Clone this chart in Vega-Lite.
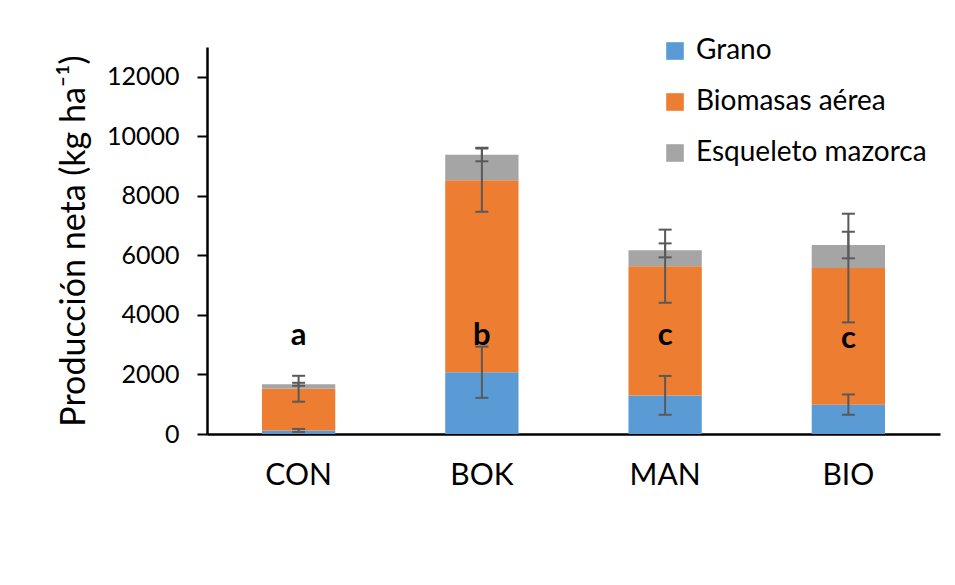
{
  "$schema": "https://vega.github.io/schema/vega-lite/v6.json",
  "width": 733,
  "height": 387,
  "autosize": "none",
  "padding": {"left": 207, "top": 47, "right": 15, "bottom": 151},
  "background": "white",
  "config": {
    "view": {"stroke": null},
    "font": "Lato"
  },
  "datasets": {
    "bars": [
      {"trt": "CON", "comp": "Grano", "orden": 1, "value": 120, "lo": 70, "hi": 170},
      {"trt": "CON", "comp": "Biomasas aérea", "orden": 2, "value": 1400, "lo": 1085, "hi": 1955},
      {"trt": "CON", "comp": "Esqueleto mazorca", "orden": 3, "value": 150, "lo": 1620, "hi": 1720},
      {"trt": "BOK", "comp": "Grano", "orden": 1, "value": 2075, "lo": 1215, "hi": 2935},
      {"trt": "BOK", "comp": "Biomasas aérea", "orden": 2, "value": 6450, "lo": 7465, "hi": 9590},
      {"trt": "BOK", "comp": "Esqueleto mazorca", "orden": 3, "value": 857, "lo": 9160, "hi": 9616},
      {"trt": "MAN", "comp": "Grano", "orden": 1, "value": 1295, "lo": 646, "hi": 1950},
      {"trt": "MAN", "comp": "Biomasas aérea", "orden": 2, "value": 4338, "lo": 4408, "hi": 6865},
      {"trt": "MAN", "comp": "Esqueleto mazorca", "orden": 3, "value": 536, "lo": 5934, "hi": 6403},
      {"trt": "BIO", "comp": "Grano", "orden": 1, "value": 981, "lo": 646, "hi": 1329},
      {"trt": "BIO", "comp": "Biomasas aérea", "orden": 2, "value": 4598, "lo": 3749, "hi": 7400},
      {"trt": "BIO", "comp": "Esqueleto mazorca", "orden": 3, "value": 770, "lo": 5901, "hi": 6794}
    ],
    "letters": [
      {"trt": "CON", "letra": "a", "pos": 3000},
      {"trt": "BOK", "letra": "b", "pos": 3000},
      {"trt": "MAN", "letra": "c", "pos": 3000},
      {"trt": "BIO", "letra": "c", "pos": 2900}
    ]
  },
  "encoding": {
    "x": {
      "field": "trt",
      "type": "nominal",
      "sort": ["CON", "BOK", "MAN", "BIO"],
      "scale": {"paddingInner": 0.6, "paddingOuter": 0.3},
      "axis": {
        "title": null,
        "labelAngle": 0,
        "labelFontSize": 30,
        "labelColor": "black",
        "labelPadding": 26,
        "ticks": false,
        "domainColor": "black",
        "domainWidth": 2.5
      }
    }
  },
  "layer": [
    {
      "data": {"name": "bars"},
      "mark": {"type": "bar"},
      "encoding": {
        "y": {
          "field": "value",
          "type": "quantitative",
          "stack": "zero",
          "scale": {"domain": [0, 13000], "nice": false},
          "axis": {
            "title": "Producción neta (kg ha⁻¹)",
            "titleFontSize": 34,
            "titleFontWeight": "normal",
            "titleColor": "black",
            "titlePadding": 15,
            "values": [0, 2000, 4000, 6000, 8000, 10000, 12000],
            "format": "d",
            "labelFontSize": 25,
            "labelColor": "black",
            "labelPadding": 18,
            "tickSize": 10,
            "tickWidth": 2,
            "tickColor": "black",
            "domainColor": "black",
            "domainWidth": 2.5,
            "grid": false
          }
        },
        "color": {
          "field": "comp",
          "type": "nominal",
          "scale": {
            "domain": ["Grano", "Biomasas aérea", "Esqueleto mazorca"],
            "range": ["#5B9BD5", "#ED7D31", "#A5A5A5"]
          },
          "legend": {
            "title": null,
            "orient": "none",
            "legendX": 454,
            "legendY": -10,
            "symbolType": "square",
            "symbolSize": 310,
            "symbolStrokeWidth": 0,
            "symbolOpacity": 1,
            "labelFontSize": 28,
            "labelColor": "black",
            "labelOffset": 7,
            "labelLimit": 0,
            "rowPadding": 23,
            "padding": 0
          }
        },
        "order": {"field": "orden", "type": "quantitative"}
      }
    },
    {
      "data": {"name": "bars"},
      "mark": {"type": "rule", "color": "#595959", "strokeWidth": 2},
      "encoding": {
        "y": {"field": "lo", "type": "quantitative"},
        "y2": {"field": "hi"}
      }
    },
    {
      "data": {"name": "bars"},
      "mark": {"type": "tick", "color": "#595959", "thickness": 2, "size": 13, "opacity": 1},
      "encoding": {
        "y": {"field": "lo", "type": "quantitative"}
      }
    },
    {
      "data": {"name": "bars"},
      "mark": {"type": "tick", "color": "#595959", "thickness": 2, "size": 13, "opacity": 1},
      "encoding": {
        "y": {"field": "hi", "type": "quantitative"}
      }
    },
    {
      "data": {"name": "letters"},
      "mark": {"type": "text", "fontSize": 31, "fontWeight": "bold", "color": "black", "baseline": "alphabetic"},
      "encoding": {
        "y": {"field": "pos", "type": "quantitative"},
        "text": {"field": "letra"}
      }
    }
  ]
}
